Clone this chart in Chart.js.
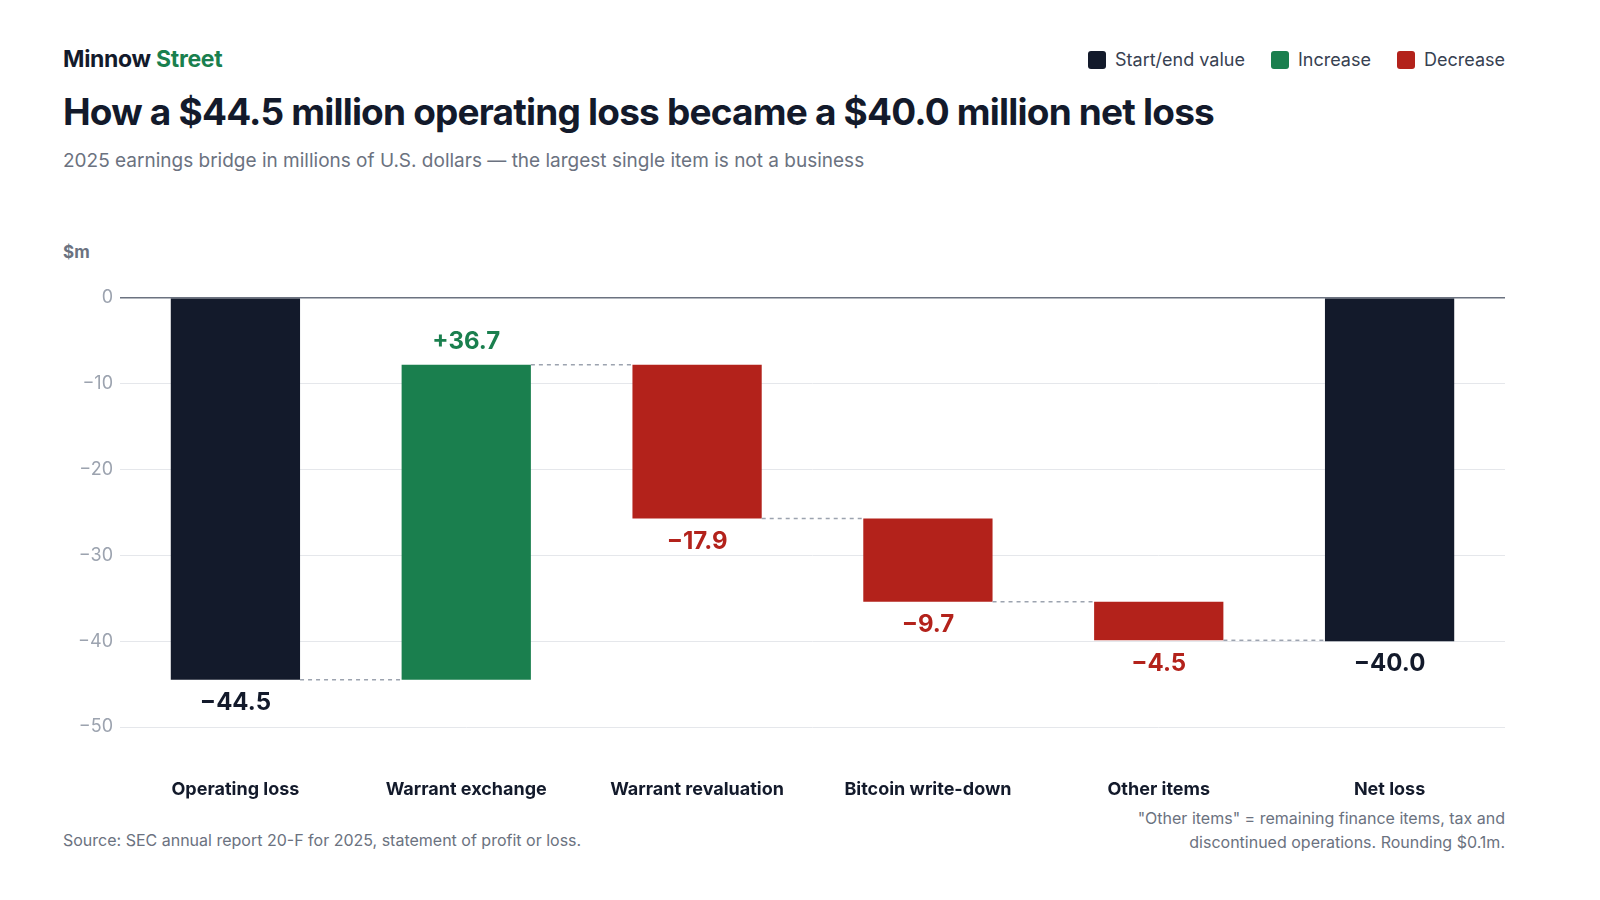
<!DOCTYPE html>
<html><head><meta charset="utf-8">
<script src="https://cdn.jsdelivr.net/npm/chart.js@4"></script>
<style>
body{margin:0;width:1600px;height:900px;background:#fff;font-family:Inter,"Noto Sans",sans-serif;position:relative;overflow:hidden}
.a{position:absolute}
#brand{left:63px;top:45px;font-size:23px;font-weight:700;color:#131a2b;letter-spacing:-0.3px}
#brand span{color:#1a7f4e}
#title{left:63px;top:89px;font-size:37px;font-weight:700;color:#131a2b;letter-spacing:-0.8px}
#sub{left:63px;top:149px;font-size:19px;color:#6b7280}
#unit{left:63px;top:242px;font-size:17px;font-weight:700;color:#6b7280}
#legend{right:95px;top:49px;font-size:18px;color:#374151;display:flex;gap:26px}
#legend i{display:inline-block;width:18px;height:18px;border-radius:3px;margin-right:9px;vertical-align:-3px}
#src{left:63px;top:830px;font-size:16px;color:#6b7280}
#note{right:95px;top:806px;font-size:16px;color:#6b7280;text-align:right;line-height:24px}
#wrap{left:60px;top:280px;width:1445px;height:520px}
</style></head><body>
<div class="a" id="brand">Minnow <span>Street</span></div>
<div class="a" id="legend"><div><i style="background:#131a2b"></i>Start/end value</div><div><i style="background:#1a7f4e"></i>Increase</div><div><i style="background:#b3221b"></i>Decrease</div></div>
<div class="a" id="title">How a $44.5 million operating loss became a $40.0 million net loss</div>
<div class="a" id="sub">2025 earnings bridge in millions of U.S. dollars — the largest single item is not a business</div>
<div class="a" id="unit">$m</div>
<div class="a" id="wrap"><canvas id="c" width="1445" height="520"></canvas></div>
<div class="a" id="src">Source: SEC annual report 20-F for 2025, statement of profit or loss.</div>
<div class="a" id="note">"Other items" = remaining finance items, tax and<br>discontinued operations. Rounding $0.1m.</div>
<script>
var categories = ["Operating loss","Warrant exchange","Warrant revaluation","Bitcoin write-down","Other items","Net loss"];
var startValue = -44.5;
var changes = [36.7, -17.9, -9.7, -4.5];
var endValue = -40.0;
var yTicks = [0,-10,-20,-30,-40,-50];

var DARK="#131a2b", GREEN="#1a7f4e", RED="#b3221b";
var ranges=[[0,startValue]], colors=[DARK], labels=["\u221244.5"], levels=[startValue];
var cur=startValue;
changes.forEach(function(c){
  var nxt=Math.round((cur+c)*10)/10;
  ranges.push([cur,nxt]); colors.push(c>0?GREEN:RED);
  labels.push((c>0?"+":"\u2212")+Math.abs(c).toFixed(1));
  cur=nxt; levels.push(cur);
});
ranges.push([0,endValue]); colors.push(DARK); labels.push("\u2212"+Math.abs(endValue).toFixed(1));

var extras={id:"extras",afterDatasetsDraw:function(chart){
  var ctx=chart.ctx, meta=chart.getDatasetMeta(0), y=chart.scales.y;
  ctx.save();
  ctx.strokeStyle="#9ca3af"; ctx.lineWidth=1.5; ctx.setLineDash([4,4]);
  for(var i=0;i<meta.data.length-1;i++){
    var a=meta.data[i], b=meta.data[i+1], yy=y.getPixelForValue(levels[i]);
    ctx.beginPath(); ctx.moveTo(a.x+a.width/2,yy); ctx.lineTo(b.x-b.width/2,yy); ctx.stroke();
  }
  ctx.setLineDash([]);
  ctx.font="bold 24px Inter"; ctx.textAlign="center"; ctx.textBaseline="middle";
  meta.data.forEach(function(bar,i){
    var r=ranges[i], lo=Math.min(r[0],r[1]), hi=Math.max(r[0],r[1]);
    ctx.fillStyle=colors[i];
    if(colors[i]===GREEN) ctx.fillText(labels[i],bar.x,y.getPixelForValue(hi)-23);
    else ctx.fillText(labels[i],bar.x,y.getPixelForValue(lo)+23);
  });
  ctx.restore();
}};

new Chart(document.getElementById("c"),{
  type:"bar",
  data:{labels:categories,datasets:[{data:ranges,backgroundColor:colors,borderWidth:0,borderSkipped:false,barPercentage:0.56,categoryPercentage:1}]},
  options:{responsive:false,animation:false,
    layout:{padding:{top:17,right:0}},
    plugins:{legend:{display:false},tooltip:{enabled:false}},
    scales:{
      x:{grid:{display:false},border:{display:false},
        ticks:{color:DARK,font:{family:"Inter",size:18,weight:"bold"},padding:44},
        afterFit:function(s){s.height=73;}},
      y:{min:-50,max:0,border:{display:false},
        afterBuildTicks:function(s){s.ticks=yTicks.map(function(v){return{value:v};});},
        afterFit:function(s){s.width=60;},
        grid:{drawTicks:false,color:function(c){return c.tick&&c.tick.value===0?"#6b7280":"#e5e7eb";},lineWidth:function(c){return c.tick&&c.tick.value===0?1.5:1;}},
        ticks:{color:"#9ca3af",font:{family:"Inter",size:18},padding:7,
          callback:function(v){return v===0?"0":"\u2212"+Math.abs(v);}}}
    }},
  plugins:[extras]
});
</script>
</body></html>
